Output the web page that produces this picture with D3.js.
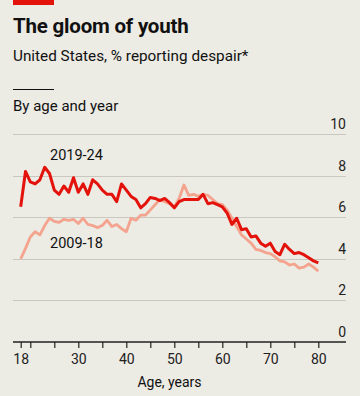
<!DOCTYPE html>
<html>
<head>
<meta charset="utf-8">
<script src="https://cdn.jsdelivr.net/npm/d3@7"></script>
<style>
  html, body { margin: 0; padding: 0; background: #ecebe4; }
  svg { display: block; font-family: Roboto, "Noto Sans", sans-serif; }
</style>
</head>
<body>
<svg id="chart" width="360" height="396"></svg>
<script>
const ages = d3.range(18, 81);
const recent = [6.5, 8.2, 7.7, 7.6, 7.8, 8.4, 8.1, 7.3, 7.1, 7.5,
  7.2, 7.9, 7.2, 7.6, 7.1, 7.8, 7.6, 7.3, 7.1, 7.1,
  6.75, 7.6, 7.3, 7.0, 6.85, 6.45, 6.65, 6.95, 6.9, 6.8,
  6.9, 6.7, 6.45, 6.75, 6.85, 6.85, 6.85, 6.85, 7.1, 6.65,
  6.7, 6.6, 6.5, 6.2, 5.65, 5.95, 5.4, 5.45, 5.05, 5.1,
  4.75, 4.6, 4.75, 4.35, 4.2, 4.7, 4.45, 4.25, 4.3, 4.2,
  4.05, 3.9, 3.8];
const earlier = [4.0, 4.5, 5.05, 5.3, 5.15, 5.6, 5.95, 5.8, 5.75, 5.9,
  5.85, 5.9, 5.7, 5.95, 5.65, 5.6, 5.5, 5.6, 5.85, 5.55,
  5.65, 5.45, 5.3, 5.95, 5.85, 6.1, 6.1, 6.35, 6.6, 6.85,
  6.75, 6.65, 6.5, 6.9, 7.55, 7.05, 7.1, 7.0, 7.1, 7.05,
  6.85, 6.65, 6.6, 6.35, 5.95, 5.55, 5.15, 4.95, 4.75, 4.45,
  4.4, 4.3, 4.25, 4.1, 3.9, 3.85, 3.7, 3.75, 3.55, 3.6,
  3.75, 3.6, 3.4];
const seriesNames = ["2009-18", "2019-24"];
const yTicks = [0, 2, 4, 6, 8, 10];
const xTicks = [18, 20, 25, 30, 35, 40, 45, 50, 55, 60, 65, 70, 75, 80];
const xLabels = [18, 30, 40, 50, 60, 70, 80];

const svg = d3.select("#chart");
const x = d3.scaleLinear().domain([18, 80]).range([20.7, 318.3]);
const y = d3.scaleLinear().domain([0, 10]).range([342, 134]);
const left = 13, right = 346;

// red tag
svg.append("rect").attr("x", 13).attr("y", 0).attr("width", 41).attr("height", 5).attr("fill", "#e3120b");

svg.append("text").attr("x", 13).attr("y", 33).attr("font-size", 20.5).attr("font-weight", 700)
  .attr("fill", "#111").attr("letter-spacing", -0.2).text("The gloom of youth");
svg.append("text").attr("x", 13).attr("y", 61).attr("font-size", 15.3).attr("fill", "#111")
  .text("United States, % reporting despair*");
svg.append("line").attr("x1", 13).attr("x2", 54).attr("y1", 89.5).attr("y2", 89.5)
  .attr("stroke", "#111").attr("stroke-width", 1);
svg.append("text").attr("x", 13).attr("y", 111).attr("font-size", 15).attr("fill", "#111")
  .text("By age and year");

// gridlines
svg.append("g").selectAll("line").data(yTicks.filter(d => d > 0)).join("line")
  .attr("x1", left).attr("x2", right)
  .attr("y1", d => Math.round(y(d)) + 0.5).attr("y2", d => Math.round(y(d)) + 0.5)
  .attr("stroke", "#c9c8c0").attr("stroke-width", 1);

// y labels
svg.append("g").selectAll("text").data(yTicks).join("text")
  .attr("x", right).attr("y", d => y(d) - 5).attr("text-anchor", "end")
  .attr("font-size", 14).attr("fill", "#222").text(d => d);

// x axis
const xAxis = d3.axisBottom(x).tickValues(xTicks).tickSize(6)
  .tickFormat(d => xLabels.includes(d) ? d : "");
const gx = svg.append("g").attr("transform", `translate(0,${y(0)})`).call(xAxis);
gx.select(".domain").remove();
gx.selectAll(".tick line").attr("stroke", "#222").attr("stroke-width", 1.2);
gx.selectAll(".tick text").attr("font-size", 14).attr("fill", "#222").attr("dy", "0.95em")
  .attr("font-family", "Roboto, 'Noto Sans', sans-serif");
svg.append("line").attr("x1", left).attr("x2", right).attr("y1", y(0)).attr("y2", y(0))
  .attr("stroke", "#222").attr("stroke-width", 1.5);

svg.append("text").attr("x", (x(18) + x(80)) / 2).attr("y", 387).attr("text-anchor", "middle")
  .attr("font-size", 14).attr("fill", "#111").text("Age, years");

const line = d3.line().x((d, i) => x(ages[i])).y(d => y(d)).curve(d3.curveLinear);
svg.append("path").datum(earlier).attr("d", line).attr("fill", "none")
  .attr("stroke", "#f4a48e").attr("stroke-width", 2.8).attr("stroke-linejoin", "round");
svg.append("path").datum(recent).attr("d", line).attr("fill", "none")
  .attr("stroke", "#e3120b").attr("stroke-width", 3).attr("stroke-linejoin", "round");

svg.append("text").attr("x", 50).attr("y", 159.5).attr("font-size", 14.5).attr("fill", "#111").text(seriesNames[1]);
svg.append("text").attr("x", 50).attr("y", 247.5).attr("font-size", 14.5).attr("fill", "#111").text(seriesNames[0]);
</script>
</body>
</html>
